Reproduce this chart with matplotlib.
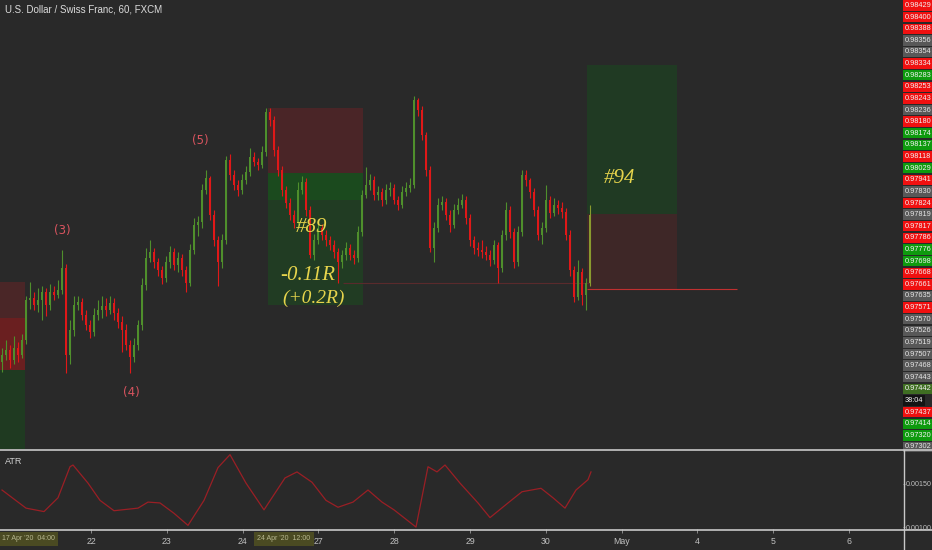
import numpy as np
import matplotlib
matplotlib.use('Agg')
import matplotlib.pyplot as plt
from matplotlib.patches import Rectangle
from matplotlib.lines import Line2D

# USDCHF candles (open = previous close)
first_open = 0.97535
closes = [0.97553, 0.97565, 0.97540, 0.97570, 0.97553, 0.97590, 0.97690, 0.97695, 0.97678, 0.97690,
          0.97710, 0.97678, 0.97710, 0.97703, 0.97715, 0.97770, 0.97553, 0.97615, 0.97678, 0.97685,
          0.97653, 0.97628, 0.97610, 0.97653, 0.97665, 0.97675, 0.97665, 0.97683, 0.97658, 0.97635,
          0.97615, 0.97578, 0.97548, 0.97578, 0.97628, 0.97728, 0.97795, 0.97810, 0.97785, 0.97765,
          0.97745, 0.97785, 0.97810, 0.97778, 0.97795, 0.97765, 0.97733, 0.97815, 0.97878, 0.97885,
          0.97965, 0.97995, 0.97903, 0.97840, 0.97785, 0.97840, 0.98040, 0.98003, 0.97978, 0.97965,
          0.97990, 0.98010, 0.98048, 0.98035, 0.98028, 0.98060, 0.98160, 0.98140, 0.98065, 0.98015,
          0.97965, 0.97933, 0.97903, 0.97883, 0.97965, 0.97985, 0.97915, 0.97803, 0.97840, 0.97870,
          0.97853, 0.97840, 0.97828, 0.97810, 0.97785, 0.97803, 0.97820, 0.97803, 0.97795, 0.97860,
          0.97953, 0.97978, 0.97990, 0.97953, 0.97960, 0.97940, 0.97965, 0.97970, 0.97940, 0.97928,
          0.97960, 0.97970, 0.97978, 0.98190, 0.98165, 0.98103, 0.98015, 0.97820, 0.97870, 0.97928,
          0.97935, 0.97903, 0.97878, 0.97915, 0.97928, 0.97940, 0.97895, 0.97840, 0.97820, 0.97815,
          0.97810, 0.97803, 0.97790, 0.97828, 0.97770, 0.97853, 0.97915, 0.97860, 0.97785, 0.97860,
          0.98003, 0.97990, 0.97960, 0.97915, 0.97853, 0.97870, 0.97940, 0.97908, 0.97928, 0.97920,
          0.97910, 0.97853, 0.97765, 0.97698, 0.97760, 0.97703, 0.97733, 0.97903]
highs = [0.97570, 0.97590, 0.97578, 0.97600, 0.97585, 0.97605, 0.97700, 0.97735, 0.97710, 0.97720,
         0.97725, 0.97720, 0.97730, 0.97725, 0.97740, 0.97815, 0.97780, 0.97640, 0.97700, 0.97700,
         0.97695, 0.97665, 0.97640, 0.97670, 0.97690, 0.97700, 0.97695, 0.97700, 0.97695, 0.97670,
         0.97650, 0.97630, 0.97590, 0.97595, 0.97640, 0.97745, 0.97820, 0.97840, 0.97820, 0.97795,
         0.97775, 0.97800, 0.97825, 0.97820, 0.97810, 0.97805, 0.97775, 0.97830, 0.97895, 0.97900,
         0.97980, 0.98015, 0.98000, 0.97915, 0.97850, 0.97855, 0.98050, 0.98055, 0.98015, 0.97990,
         0.98005, 0.98025, 0.98070, 0.98060, 0.98045, 0.98075, 0.98170, 0.98170, 0.98150, 0.98075,
         0.98025, 0.97975, 0.97945, 0.97915, 0.97985, 0.98000, 0.97995, 0.97925, 0.97855, 0.97890,
         0.97880, 0.97865, 0.97850, 0.97840, 0.97820, 0.97815, 0.97835, 0.97830, 0.97815, 0.97875,
         0.97965, 0.98023, 0.98005, 0.98000, 0.97975, 0.97970, 0.97980, 0.97985, 0.97980, 0.97950,
         0.97975, 0.97985, 0.97995, 0.98200, 0.98195, 0.98175, 0.98110, 0.98025, 0.97885, 0.97945,
         0.97950, 0.97945, 0.97915, 0.97930, 0.97945, 0.97955, 0.97950, 0.97905, 0.97850, 0.97835,
         0.97840, 0.97825, 0.97815, 0.97840, 0.97835, 0.97865, 0.97935, 0.97925, 0.97870, 0.97875,
         0.98015, 0.98015, 0.97995, 0.97970, 0.97925, 0.97885, 0.97978, 0.97950, 0.97945, 0.97940,
         0.97935, 0.97920, 0.97865, 0.97775, 0.97790, 0.97770, 0.97745, 0.97928]
lows = [0.97510, 0.97540, 0.97520, 0.97530, 0.97535, 0.97545, 0.97580, 0.97668, 0.97665, 0.97660,
        0.97640, 0.97650, 0.97665, 0.97690, 0.97695, 0.97705, 0.97508, 0.97530, 0.97600, 0.97665,
        0.97640, 0.97615, 0.97595, 0.97600, 0.97640, 0.97645, 0.97650, 0.97655, 0.97640, 0.97620,
        0.97560, 0.97565, 0.97508, 0.97535, 0.97565, 0.97615, 0.97715, 0.97785, 0.97770, 0.97750,
        0.97730, 0.97735, 0.97770, 0.97765, 0.97760, 0.97750, 0.97710, 0.97725, 0.97805, 0.97850,
        0.97870, 0.97955, 0.97890, 0.97825, 0.97725, 0.97770, 0.97830, 0.97990, 0.97965, 0.97950,
        0.97955, 0.97980, 0.98000, 0.98025, 0.98015, 0.98020, 0.98050, 0.98125, 0.98050, 0.98000,
        0.97950, 0.97920, 0.97890, 0.97870, 0.97870, 0.97955, 0.97900, 0.97795, 0.97790, 0.97830,
        0.97840, 0.97825, 0.97815, 0.97795, 0.97733, 0.97770, 0.97790, 0.97790, 0.97780, 0.97785,
        0.97850, 0.97945, 0.97965, 0.97940, 0.97940, 0.97925, 0.97930, 0.97950, 0.97930, 0.97915,
        0.97920, 0.97950, 0.97960, 0.97970, 0.98150, 0.98090, 0.98000, 0.97810, 0.97785, 0.97860,
        0.97915, 0.97890, 0.97860, 0.97870, 0.97905, 0.97920, 0.97880, 0.97825, 0.97805, 0.97800,
        0.97795, 0.97790, 0.97775, 0.97780, 0.97733, 0.97760, 0.97840, 0.97845, 0.97770, 0.97775,
        0.97850, 0.97975, 0.97945, 0.97900, 0.97840, 0.97830, 0.97860, 0.97895, 0.97900, 0.97905,
        0.97895, 0.97840, 0.97750, 0.97685, 0.97690, 0.97678, 0.97665, 0.97725]

# ATR(14) line, sampled at bar positions
atr_bars = [0, 6, 10.5, 14, 17, 17.75, 21.5, 24.5, 28, 34, 36.5, 39.5, 43, 46.5, 50.5, 54, 57, 61,
            65.5, 70.75, 73.75, 77.5, 81, 84, 87.75, 91.5, 95, 98, 103.5, 106.5, 108.75, 110.75,
            114.5, 119, 122, 126.5, 130, 134.75, 137.75, 140.75, 143.5, 146.5, 147.25]
atr_vals = [0.00143, 0.00122, 0.00118, 0.00134, 0.00170, 0.00172, 0.00151, 0.00131, 0.00119, 0.00122,
            0.00129, 0.00128, 0.00116, 0.00102, 0.00131, 0.00169, 0.00184, 0.00151, 0.00120, 0.00157,
            0.00164, 0.00152, 0.00131, 0.00123, 0.00129, 0.00143, 0.00129, 0.00120, 0.00100, 0.00170,
            0.00164, 0.00172, 0.00151, 0.00128, 0.00111, 0.00128, 0.00141, 0.00145, 0.00134, 0.00122,
            0.00143, 0.00155, 0.00164]

# price scale labels stacked on the right
price_labels = ['0.98429', '0.98400', '0.98388', '0.98356', '0.98354', '0.98334', '0.98283', '0.98253',
                '0.98243', '0.98236', '0.98180', '0.98174', '0.98137', '0.98118', '0.98029', '0.97941',
                '0.97830', '0.97824', '0.97819', '0.97817', '0.97786', '0.97776', '0.97698', '0.97668',
                '0.97661', '0.97635', '0.97571', '0.97570', '0.97526', '0.97519', '0.97507', '0.97468',
                '0.97443', '0.97442', '38:04', '0.97437', '0.97414', '0.97320', '0.97302']
label_kind = ['r', 'r', 'r', 'n', 'n', 'r', 'g', 'r', 'r', 'n', 'r', 'g', 'g', 'r', 'g', 'r',
              'n', 'r', 'n', 'r', 'r', 'g', 'g', 'r', 'r', 'n', 'r', 'n', 'n', 'n', 'n', 'n',
              'n', 'o', 'k', 'r', 'g', 'g', 'n']

day_labels = ['22', '23', '24', '27', '28', '29', '30', 'May', '4', '5', '6']

# position tools (bar range, price levels)
box_left = dict(x0=-0.5, x1=5.75, stop=0.97735, mid=0.97645, entry=0.97515, target=0.97200)
trade89 = dict(x0=66.5, x1=90.25, stop=0.98170, entry=0.98008, now=0.97940, target=0.97678)
trade94 = dict(x0=146.25, x1=168.75, target=0.98278, entry=0.97905, stop=0.97718)

BG = '#292929'
UP = '#4f8f2c'
DOWN = '#e01818'
AXFONT = 'Liberation Sans'

fig = plt.figure(figsize=(9.32, 5.5), dpi=100, facecolor=BG)
W, H = 932.0, 550.0
ax = fig.add_axes([0, 1 - 449 / H, 903 / W, 449 / H], facecolor=BG)
ax2 = fig.add_axes([0, 1 - 529 / H, 903 / W, 79 / H], facecolor=BG)

n = len(closes)
x = np.arange(n)
opens = [first_open] + closes[:-1]

# position boxes
def rect(a, x0, x1, y0, y1, c):
    a.add_patch(Rectangle((x0, min(y0, y1)), x1 - x0, abs(y1 - y0), facecolor=c, edgecolor='none', zorder=1))

rect(ax, box_left['x0'], box_left['x1'], box_left['stop'], box_left['mid'], '#4a2627')
rect(ax, box_left['x0'], box_left['x1'], box_left['mid'], box_left['entry'], '#6a1f20')
rect(ax, box_left['x0'], box_left['x1'], box_left['entry'], box_left['target'], '#1f3a21')

rect(ax, trade89['x0'], trade89['x1'], trade89['stop'], trade89['entry'], '#4a2527')
rect(ax, trade89['x0'], trade89['x1'], trade89['entry'], trade89['now'], '#1b4a1e')
rect(ax, trade89['x0'], trade89['x1'], trade89['now'], trade89['target'], '#213c23')

rect(ax, trade94['x0'], trade94['x1'], trade94['target'], trade94['entry'], '#203a23')
rect(ax, trade94['x0'], trade94['x1'], trade94['entry'], trade94['stop'], '#3e2727')

ax.hlines(0.97733, 85.25, 147, color='#5a2a2c', lw=0.8, zorder=2)
ax.hlines(trade94['stop'], trade94['x0'], 183.75, color='#c03030', lw=0.8, zorder=4)

# candles
colors = []
for i in range(n):
    if i == n - 1:
        colors.append('#8a9a2e')
    elif closes[i] >= opens[i]:
        colors.append(UP)
    else:
        colors.append(DOWN)
ax.vlines(x, lows, highs, colors=colors, lw=0.8, zorder=3)
bottoms = [min(o, c) for o, c in zip(opens, closes)]
heights = [max(abs(c - o), 0.00002) for o, c in zip(opens, closes)]
ax.bar(x, heights, bottom=bottoms, width=0.65, color=colors, edgecolor='none', zorder=3)

ymax = 0.98440
ymin = ymax - 0.000025 * 449
ax.set_ylim(ymin, ymax)
ax.set_xlim(-0.5, 225.25)

# wave labels
wave_col = '#d9545f'
ax.text(15, 0.97863, '(3)', color=wave_col, fontsize=8.5, ha='center', va='center')
ax.text(32.25, 0.97458, '(4)', color=wave_col, fontsize=8.5, ha='center', va='center')
ax.text(49.5, 0.98090, '(5)', color=wave_col, fontsize=8.5, ha='center', va='center')

# trade notes
note = dict(color='#e6d44c', family='Liberation Serif', style='italic', va='center', ha='left')
ax.text(73.5, 0.97870, '#89', fontsize=15, **note)
ax.text(69.5, 0.97750, '-0.11R', fontsize=15, **note)
ax.text(70.0, 0.97693, '(+0.2R)', fontsize=14, **note)
ax.text(150.5, 0.97995, '#94', fontsize=15, **note)

# right price labels
ax.yaxis.tick_right()
pos = np.linspace(ymax - 0.000025 * 4.5, ymax - 0.000025 * 446, len(price_labels))
ax.set_yticks(pos)
ax.set_yticklabels(price_labels, family=AXFONT)
ax.tick_params(axis='y', length=0, pad=1.5, labelsize=5.3)
box_cols = {'r': '#f01010', 'g': '#0e9a0e', 'n': '#585858', 'o': '#3f6e22', 'k': '#141414'}
for t, k in zip(ax.yaxis.get_major_ticks(), label_kind):
    t.label2.set_bbox(dict(facecolor=box_cols[k], edgecolor='none', pad=1.2))
    t.label2.set_color('#f2f2f2' if k != 'n' else '#e6e6e6')
ax.set_xticks([])
for s in ax.spines.values():
    s.set_visible(False)

# ATR panel
ax2.plot(atr_bars, atr_vals, color='#9a1f25', lw=0.9)
ax2.set_xlim(-0.5, 225.25)
ax2.set_ylim(0.000978, 0.001894)
ax2.yaxis.tick_right()
ax2.set_yticks([0.00150, 0.00100])
ax2.set_yticklabels(['0.00150', '0.00100'], family=AXFONT)
ax2.tick_params(axis='y', length=1.5, width=0.6, color='#9a9a9a', labelcolor='#c0c0c0', labelsize=5.1, pad=0.8)
day_pos = [22.25 + 18.95 * k for k in range(len(day_labels))]
ax2.set_xticks(day_pos)
ax2.set_xticklabels(day_labels, family=AXFONT)
ax2.tick_params(axis='x', length=3, width=0.6, color='#9a9a9a', labelcolor='#c0c0c0', labelsize=6.3, pad=3)
for s in ax2.spines.values():
    s.set_visible(False)
ax2.text(0.006, 0.85, 'ATR', transform=ax2.transAxes, color='#d0d0d0', fontsize=6.5, va='center',
         family=AXFONT)

# panel separators
fig.add_artist(Line2D([0, 1], [1 - 449.5 / H, 1 - 449.5 / H], color='#c8c8c8', lw=1.2))
fig.add_artist(Line2D([0, 1], [1 - 530 / H, 1 - 530 / H], color='#c8c8c8', lw=1.2))
fig.add_artist(Line2D([904 / W, 904 / W], [0, 1 - 449.5 / H], color='#c8c8c8', lw=1.0))

# crosshair date boxes on the time scale
fig.text(2 / W, 1 - 539 / H, "17 Apr '20  04:00", color='#b8b890', fontsize=5, va='center', ha='left',
         family=AXFONT, bbox=dict(facecolor='#4a4a22', edgecolor='none', pad=2.5))
fig.text(257 / W, 1 - 539 / H, "24 Apr '20  12:00", color='#b8b890', fontsize=5, va='center', ha='left',
         family=AXFONT, bbox=dict(facecolor='#4a4a22', edgecolor='none', pad=2.5))

fig.text(5 / W, 1 - 10 / H, 'U.S. Dollar / Swiss Franc, 60, FXCM', color='#dcdcdc', fontsize=7,
         va='center', ha='left', family=AXFONT)

fig.savefig('out.png', dpi=100, facecolor=BG)
